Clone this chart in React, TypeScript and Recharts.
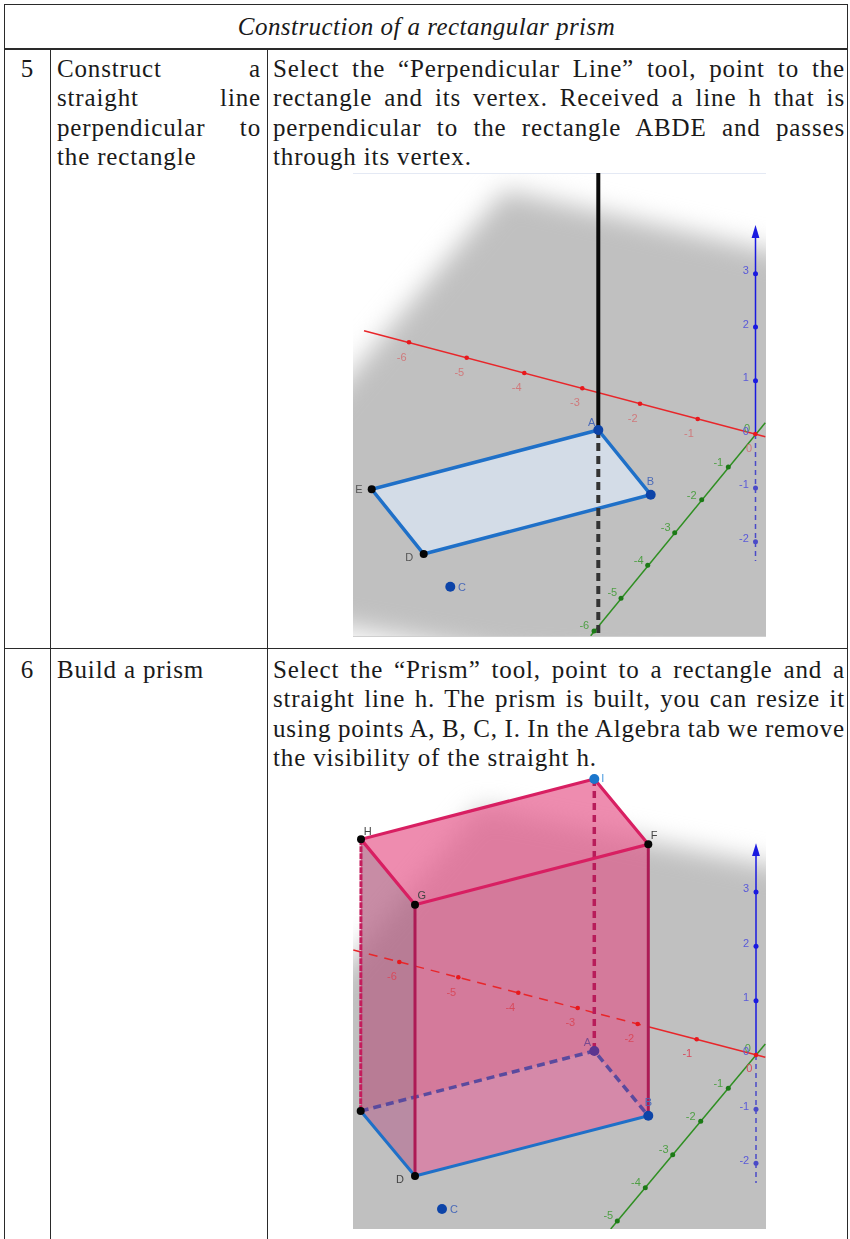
import { Area, ComposedChart, Line, Scatter, XAxis, YAxis } from "recharts";

// text of the table
const rowFiveStep = ["Construct a", "straight line", "perpendicular to", "the rectangle"];
const rowFiveText = [
  "Select the “Perpendicular Line” tool, point to the",
  "rectangle and its vertex. Received a line h that is",
  "perpendicular to the rectangle ABDE and passes",
  "through its vertex.",
];
const rowSixText = [
  "Select the “Prism” tool, point to a rectangle and a",
  "straight line h. The prism is built, you can resize it",
  "using points A, B, C, I. In the Algebra tab we remove",
  "the visibility of the straight h.",
];

// first figure, values in picture units
const planeA = [
  { x: 313, top: 420, bottom: 621 },
  { x: 505, top: 190, bottom: 655 },
  { x: 806, top: 259, bottom: 677 },
];
const rectA = [
  { x: 371.7, top: 489.3, bottom: 489.3 },
  { x: 423.7, top: 475.7, bottom: 554 },
  { x: 598.3, top: 430, bottom: 508.4 },
  { x: 650.7, top: 494.7, bottom: 494.7 },
];
const rectEdgeA = [
  { x: 598.3, y: 430 },
  { x: 650.7, y: 494.7 },
  { x: 423.7, y: 554 },
  { x: 371.7, y: 489.3 },
  { x: 598.3, y: 430 },
];
const redAxisA = [{ x: 364, y: 330.7 }, { x: 765.3, y: 436.7 }];
const greenAxisA = [{ x: 765.3, y: 422.7 }, { x: 590.7, y: 635.7 }];
const blueUpA = [{ x: 755.5, y: 434 }, { x: 755.5, y: 232 }];
const blueDownA = [{ x: 755.5, y: 434 }, { x: 755.5, y: 561 }];
const arrowA = [
  { x: 751.6, top: 238, bottom: 238 },
  { x: 755.5, top: 225, bottom: 238 },
  { x: 759.4, top: 238, bottom: 238 },
];
const perpSolid = [{ x: 598.3, y: 173 }, { x: 598.3, y: 430 }];
const perpDashed = [{ x: 598.3, y: 430 }, { x: 598.3, y: 636 }];
const frameTopA = [{ x: 353, y: 173.5 }, { x: 766, y: 173.5 }];
const redTicksA = [
  { x: 409, y: 342.3 }, { x: 466.7, y: 357.7 }, { x: 524.3, y: 373 }, { x: 582.3, y: 388.3 },
  { x: 640, y: 403.7 }, { x: 697.7, y: 419 }, { x: 755.3, y: 434 },
];
const greenTicksA = [
  { x: 728.3, y: 467 }, { x: 701.7, y: 499.7 }, { x: 674.7, y: 532.7 },
  { x: 647.7, y: 565.3 }, { x: 621, y: 598.3 }, { x: 594, y: 631 },
];
const blueTicksA = [
  { x: 755.5, y: 273.7 }, { x: 755.5, y: 327 }, { x: 755.5, y: 380.7 },
];
const blueDownTicksA = [{ x: 755.5, y: 488 }, { x: 755.5, y: 541.7 }];
const redLabelsA = [
  { x: 401.7, y: 357, t: "-6" }, { x: 459.3, y: 371.7, t: "-5" }, { x: 516.7, y: 387, t: "-4" },
  { x: 575, y: 402.3, t: "-3" }, { x: 632.7, y: 417.7, t: "-2" }, { x: 689, y: 432.7, t: "-1" },
  { x: 749, y: 447.7, t: "0" },
];
const greenLabelsA = [
  { x: 718.3, y: 461.7, t: "-1" }, { x: 691.7, y: 494.7, t: "-2" }, { x: 665.7, y: 526.7, t: "-3" },
  { x: 638.7, y: 560, t: "-4" }, { x: 612.3, y: 592.3, t: "-5" }, { x: 584.3, y: 625, t: "-6" },
  { x: 747, y: 428, t: "0" },
];
const blueLabelsA = [
  { x: 745.7, y: 270, t: "3" }, { x: 745.7, y: 324, t: "2" }, { x: 745.7, y: 377, t: "1" },
  { x: 745.7, y: 430.7, t: "0" }, { x: 744, y: 484, t: "-1" }, { x: 744, y: 537.7, t: "-2" },
];
const blackPointsA = [{ x: 371.7, y: 489.3 }, { x: 423.7, y: 554 }];
const bluePointsA = [{ x: 598.3, y: 430 }, { x: 650.7, y: 494.7 }, { x: 450.3, y: 586.7 }];
const greyNamesA = [{ x: 359, y: 489.3, t: "E" }, { x: 409.3, y: 557.3, t: "D" }];
const blueNamesA = [
  { x: 591.7, y: 421.7, t: "A" }, { x: 650.3, y: 481, t: "B" }, { x: 462, y: 586.7, t: "C" },
];

// second figure
const planeB = [
  { x: 313, top: 1005, bottom: 1269 },
  { x: 480, top: 808, bottom: 1269 },
  { x: 806, top: 872, bottom: 1269 },
];
const baseFace = [
  { x: 360.7, top: 1111, bottom: 1111 },
  { x: 415, top: 1097, bottom: 1176 },
  { x: 594.3, top: 1051, bottom: 1130 },
  { x: 648.3, top: 1115.7, bottom: 1115.7 },
];
const topFace = [
  { x: 361, top: 839.3, bottom: 839.3 },
  { x: 415, top: 825.3, bottom: 904.7 },
  { x: 594.3, top: 779, bottom: 858.3 },
  { x: 648.3, top: 844.3, bottom: 844.3 },
];
const frontFace = [
  { x: 415, top: 904.7, bottom: 1176 },
  { x: 648.3, top: 844.3, bottom: 1115.7 },
];
const sideFace = [
  { x: 361, top: 839.3, bottom: 1111 },
  { x: 415, top: 904.7, bottom: 1176 },
];
const topEdge = [
  { x: 594.3, y: 779 }, { x: 648.3, y: 844.3 }, { x: 415, y: 904.7 }, { x: 361, y: 839.3 }, { x: 594.3, y: 779 },
];
const edgeGD = [{ x: 415, y: 904.7 }, { x: 415, y: 1176 }];
const edgeFB = [{ x: 648.3, y: 844.3 }, { x: 648.3, y: 1115.7 }];
const edgeHE = [{ x: 361, y: 839.3 }, { x: 360.7, y: 1111 }];
const edgeIA = [{ x: 594.3, y: 779 }, { x: 594.3, y: 1051 }];
const baseSolid = [{ x: 360.7, y: 1111 }, { x: 415, y: 1176 }, { x: 648.3, y: 1115.7 }];
const baseHidden = [{ x: 360.7, y: 1111 }, { x: 594.3, y: 1051 }, { x: 648.3, y: 1115.7 }];
const redHiddenB = [{ x: 353.3, y: 950 }, { x: 648.3, y: 1026.7 }];
const redSolidB = [{ x: 648.3, y: 1026.7 }, { x: 765.3, y: 1057.3 }];
const greenAxisB = [{ x: 765.3, y: 1044 }, { x: 610.7, y: 1229 }];
const blueUpB = [{ x: 756, y: 1055 }, { x: 756, y: 850 }];
const blueDownB = [{ x: 756, y: 1055 }, { x: 756, y: 1183 }];
const arrowB = [
  { x: 752.1, top: 856, bottom: 856 },
  { x: 756, top: 843.3, bottom: 856 },
  { x: 759.9, top: 856, bottom: 856 },
];
const redTicksB = [
  { x: 399.3, y: 962 }, { x: 458.3, y: 977.3 }, { x: 518.3, y: 992.7 }, { x: 577.7, y: 1008 },
  { x: 637.7, y: 1024 }, { x: 696.7, y: 1039.3 }, { x: 756, y: 1055 },
];
const greenTicksB = [
  { x: 728.3, y: 1088.3 }, { x: 700.7, y: 1121.3 }, { x: 672.7, y: 1154.7 },
  { x: 645.3, y: 1187.7 }, { x: 617.3, y: 1221 },
];
const blueTicksB = [{ x: 756, y: 892 }, { x: 756, y: 946.3 }, { x: 756, y: 1000.7 }];
const blueDownTicksB = [{ x: 756, y: 1109.3 }, { x: 756, y: 1163.3 }];
const redLabelsB = [
  { x: 392, y: 976.3, t: "-6" }, { x: 451.3, y: 991.7, t: "-5" }, { x: 510.3, y: 1006.7, t: "-4" },
  { x: 570.3, y: 1022.3, t: "-3" }, { x: 629.3, y: 1038.3, t: "-2" }, { x: 687.3, y: 1053.3, t: "-1" },
  { x: 749.3, y: 1068.3, t: "0" },
];
const greenLabelsB = [
  { x: 718.3, y: 1082.7, t: "-1" }, { x: 690.7, y: 1115.7, t: "-2" }, { x: 663.7, y: 1148.7, t: "-3" },
  { x: 636, y: 1182, t: "-4" }, { x: 608.3, y: 1215, t: "-5" }, { x: 747.7, y: 1047.7, t: "0" },
];
const blueLabelsB = [
  { x: 746, y: 888.3, t: "3" }, { x: 746, y: 943.3, t: "2" }, { x: 746, y: 997, t: "1" },
  { x: 746, y: 1050.7, t: "0" }, { x: 744.3, y: 1105.7, t: "-1" }, { x: 744.3, y: 1160, t: "-2" },
];
const blackPointsB = [
  { x: 361, y: 839.3 }, { x: 415, y: 904.7 }, { x: 648.3, y: 844.3 }, { x: 360.7, y: 1111 }, { x: 415, y: 1176 },
];
const bluePointsB = [{ x: 648.3, y: 1115.7 }, { x: 442, y: 1209 }];
const purplePointB = [{ x: 594.3, y: 1051 }];
const lightPointB = [{ x: 594.3, y: 779 }];
const greyNamesB = [
  { x: 367.7, y: 830.7, t: "H" }, { x: 421.7, y: 895, t: "G" }, { x: 654, y: 834.7, t: "F" }, { x: 400, y: 1179.3, t: "D" },
];
const blueNamesB = [{ x: 648.3, y: 1101.7, t: "B" }, { x: 454, y: 1209, t: "C" }];
const purpleNameB = [{ x: 587.3, y: 1041.7, t: "A" }];
const lightNameB = [{ x: 602.7, y: 778, t: "I" }];

const PAD = 40;
const RED = "#e8262a";
const GREEN = "#2f8f22";
const BLUE = "#1a1ae0";
const EDGE = "#1f70c8";
const PINK = "#d81f62";
const DARK_PINK = "#ad1a55";

const dot = (r: number, fill: string) => (p: any) => <circle cx={p.cx} cy={p.cy} r={r} fill={fill} />;
const name = (fill: string, size = 11) => (p: any) => (
  <text x={p.cx} y={p.cy} fill={fill} fontSize={size} fontFamily="'Liberation Sans', sans-serif" textAnchor="middle" dominantBaseline="central">
    {p.payload.t}
  </text>
);
const face = (data: any[], fill: string, opacity = 1, blur = false) => (
  <Area
    data={data}
    dataKey={(d: any) => [d.top, d.bottom]}
    fill={fill}
    fillOpacity={opacity}
    stroke="none"
    dot={false}
    activeDot={false}
    isAnimationActive={false}
    style={blur ? { filter: "blur(13px)" } : undefined}
  />
);
const seg = (data: any[], stroke: string, width: number, dash?: string) => (
  <Line
    data={data}
    dataKey="y"
    stroke={stroke}
    strokeWidth={width}
    strokeDasharray={dash}
    strokeLinecap="butt"
    dot={false}
    activeDot={false}
    legendType="none"
    isAnimationActive={false}
  />
);
const marks = (data: any[], shape: any) => <Scatter data={data} shape={shape} isAnimationActive={false} />;

function Figure({ x0, x1, y0, y1, children }: { x0: number; x1: number; y0: number; y1: number; children: any }) {
  return (
    <div style={{ position: "absolute", left: x0, top: y0, width: x1 - x0, height: y1 - y0, overflow: "hidden" }}>
      <div style={{ position: "absolute", left: -PAD, top: -PAD, filter: "blur(0.4px)" }}>
        <ComposedChart width={x1 - x0 + PAD * 2} height={y1 - y0 + PAD * 2} margin={{ top: 0, right: 0, bottom: 0, left: 0 }}>
          <XAxis type="number" dataKey="x" domain={[x0 - PAD, x1 + PAD]} hide />
          <YAxis type="number" dataKey="y" domain={[y0 - PAD, y1 + PAD]} reversed hide />
          {children}
        </ComposedChart>
      </div>
    </div>
  );
}

function TextLine({ left, width, top, justify, children, style }: any) {
  return (
    <div
      style={{
        position: "absolute",
        left,
        top,
        width,
        height: 29,
        lineHeight: "29px",
        fontFamily: "'Liberation Serif', serif",
        fontSize: 25,
        letterSpacing: 0.85,
        // negative so a long line stays on one row, justify opens the gaps again
        wordSpacing: justify ? -3 : 0,
        color: "#1a1a1a",
        textAlign: justify ? "justify" : "left",
        textAlignLast: justify ? "justify" : "left",
        ...style,
      }}
    >
      {children}
    </div>
  );
}

const rule = (left: number, top: number, width: number, height: number) => (
  <div style={{ position: "absolute", left, top, width, height, background: "#2a2a2a" }} />
);

export default function App() {
  return (
    <div style={{ position: "absolute", left: 0, top: 0, width: 850, height: 1239, overflow: "hidden", background: "#fff" }}>
      <Figure x0={353} x1={766} y0={173} y1={636}>
        {face(planeA, "#c0c0c0", 1, true)}
        {face(rectA, "#d3dce7")}
        {face(arrowA, BLUE)}
        {seg(frameTopA, "#e4e9f4", 1)}
        {seg(redAxisA, RED, 1.5)}
        {seg(greenAxisA, GREEN, 1.5)}
        {seg(blueUpA, BLUE, 1.5)}
        {seg(blueDownA, "#4a4ac8", 1.5, "5 4")}
        {seg(rectEdgeA, EDGE, 3.5)}
        {seg(perpSolid, "#0a0a0a", 4)}
        {seg(perpDashed, "#333", 4, "8 5")}
        {marks(redTicksA, dot(2.3, "#e8181c"))}
        {marks(greenTicksA, dot(2.5, "#1c7a16"))}
        {marks(blueTicksA, dot(2.5, BLUE))}
        {marks(blueDownTicksA, dot(2.5, "#4a4ac8"))}
        {marks(blackPointsA, dot(4, "#050505"))}
        {marks(bluePointsA, dot(5, "#0d44a8"))}
        {marks(redLabelsA, name("#cf7a7c"))}
        {marks(greenLabelsA, name("#4f9f45"))}
        {marks(blueLabelsA, name("#5a5ad8"))}
        {marks(greyNamesA, name("#555"))}
        {marks(blueNamesA, name("#4a6ab8"))}
      </Figure>
      <div style={{ position: "absolute", left: 353, top: 636, width: 413, height: 1, background: "#cfcfcf" }} />

      <Figure x0={353} x1={766} y0={773} y1={1229}>
        {face(planeB, "#c0c0c0", 1, true)}
        {face(arrowB, BLUE)}
        {face(baseFace, "#c4fffc", 0.9)}
        {face(sideFace, "#b56587", 0.75)}
        {face(frontFace, "#db638f", 0.75)}
        {face(topFace, "#e86694", 0.75)}
        {seg(redHiddenB, RED, 1.5, "9 7")}
        {seg(redSolidB, RED, 1.5)}
        {seg(greenAxisB, GREEN, 1.5)}
        {seg(blueUpB, BLUE, 1.5)}
        {seg(blueDownB, "#4a4ac8", 1.5, "5 4")}
        {seg(edgeIA, "#b81c5a", 3.5, "7 5")}
        {seg(baseHidden, "#5a4a9e", 3.5, "8 5")}
        {seg(baseSolid, EDGE, 3)}
        {seg(edgeHE, "#c41c5c", 3, "6 1")}
        {seg(edgeGD, DARK_PINK, 3)}
        {seg(edgeFB, DARK_PINK, 3)}
        {seg(topEdge, PINK, 3.2)}
        {marks(redTicksB, dot(2.3, "#e8181c"))}
        {marks(greenTicksB, dot(2.5, "#1c7a16"))}
        {marks(blueTicksB, dot(2.5, BLUE))}
        {marks(blueDownTicksB, dot(2.5, "#4a4ac8"))}
        {marks(blackPointsB, dot(4, "#050505"))}
        {marks(bluePointsB, dot(5, "#0d44a8"))}
        {marks(purplePointB, dot(5, "#5b3590"))}
        {marks(lightPointB, dot(5, "#1b76cc"))}
        {marks(redLabelsB, name("#d84a5c"))}
        {marks(greenLabelsB, name("#4f9f45"))}
        {marks(blueLabelsB, name("#5a5ad8"))}
        {marks(greyNamesB, name("#444"))}
        {marks(blueNamesB, name("#4a6ab8"))}
        {marks(purpleNameB, name("#7a4a90"))}
        {marks(lightNameB, name("#4a9ae0"))}
      </Figure>

      {rule(4, 3.5, 844, 1.5)}
      {rule(4, 48, 844, 1.5)}
      {rule(4, 647.5, 844, 1.5)}
      {rule(4, 3.5, 1.3, 1236)}
      {rule(847, 3.5, 1.3, 1236)}
      {rule(50, 49, 1.3, 1190)}
      {rule(267, 49, 1.3, 1190)}

      <TextLine left={5} width={843} top={12} style={{ textAlign: "center", textAlignLast: "center", fontStyle: "italic", letterSpacing: 0.45 }}>
        Construction of a rectangular prism
      </TextLine>
      <TextLine left={5} width={45} top={54} style={{ textAlign: "center", textAlignLast: "center" }}>5</TextLine>
      <TextLine left={5} width={45} top={655} style={{ textAlign: "center", textAlignLast: "center" }}>6</TextLine>
      {rowFiveStep.map((t, i) => (
        <TextLine key={t} left={57} width={204} top={54 + i * 29.3} justify={i < 3}>{t}</TextLine>
      ))}
      {rowFiveText.map((t, i) => (
        <TextLine key={t} left={273} width={572} top={54 + i * 29.3} justify={i < 3}>{t}</TextLine>
      ))}
      <TextLine left={57} width={204} top={655}>Build a prism</TextLine>
      {rowSixText.map((t, i) => (
        <TextLine key={t} left={273} width={572} top={655 + i * 29.3} justify={i < 3}>{t}</TextLine>
      ))}
    </div>
  );
}
